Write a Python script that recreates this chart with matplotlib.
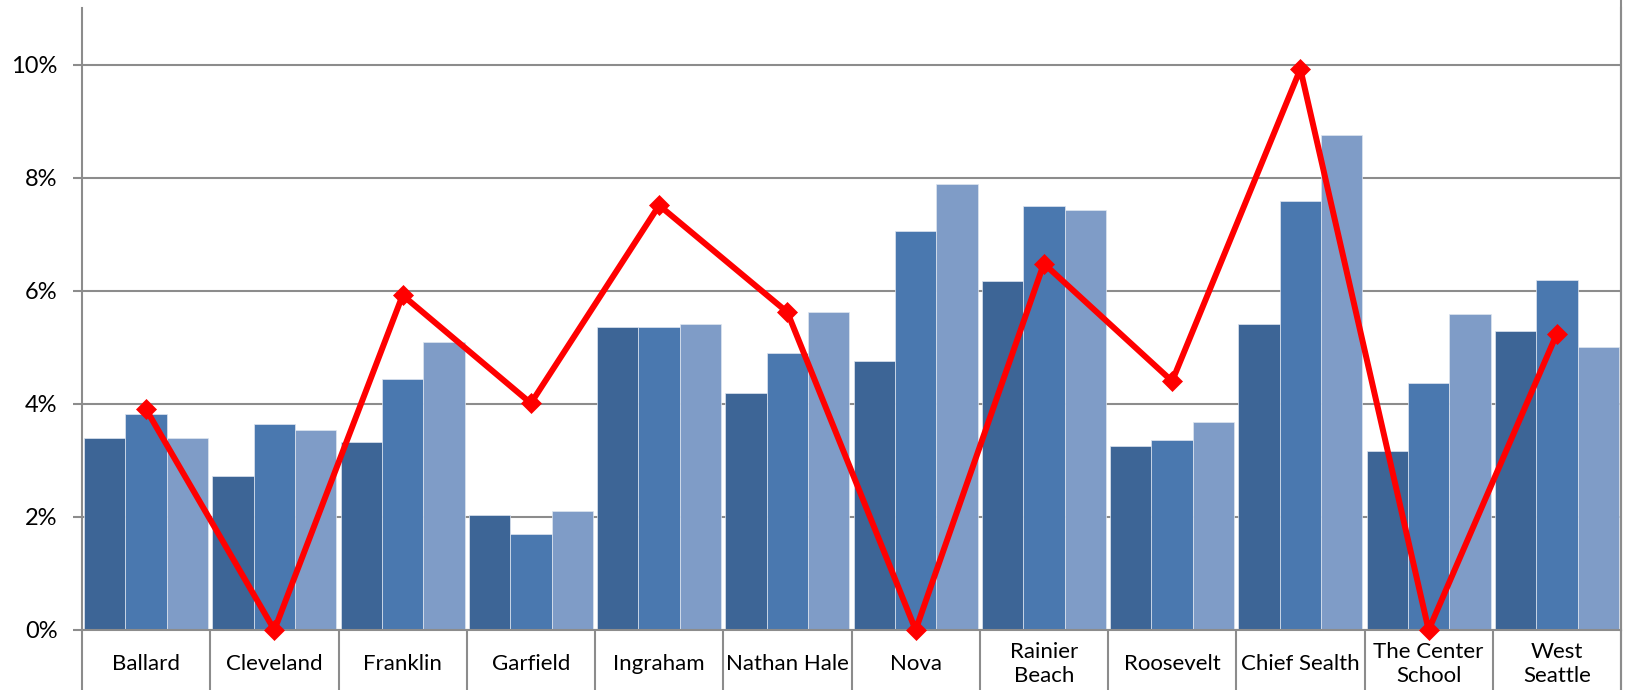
import matplotlib
matplotlib.use("Agg")
import matplotlib.pyplot as plt
import numpy as np
from matplotlib.ticker import FuncFormatter, FixedLocator
from matplotlib.lines import Line2D

plt.rcParams['font.family'] = ['Lato', 'DejaVu Sans']

categories = ["Ballard", "Cleveland", "Franklin", "Garfield", "Ingraham", "Nathan Hale",
              "Nova", "Rainier\nBeach", "Roosevelt", "Chief Sealth", "The Center\nSchool",
              "West\nSeattle"]
series_a = [3.40, 2.72, 3.32, 2.04, 5.36, 4.19, 4.76, 6.18, 3.26, 5.42, 3.17, 5.28]
series_b = [3.82, 3.65, 4.44, 1.69, 5.36, 4.89, 7.05, 7.49, 3.36, 7.59, 4.37, 6.19]
series_c = [3.40, 3.54, 5.10, 2.11, 5.42, 5.63, 7.89, 7.43, 3.68, 8.76, 5.58, 5.00]
line_vals = [3.90, 0.00, 5.92, 4.01, 7.51, 5.62, 0.00, 6.48, 4.40, 9.92, 0.00, 5.24]
yticks = [0, 2, 4, 6, 8, 10]

colors = ["#3D6596", "#4A78AF", "#7F9CC7"]

W, H = 1627, 690
fig = plt.figure(figsize=(W / 100, H / 100), dpi=100)
left, right, top, bottom = 82, 1621, 8, 630
ax = fig.add_axes([left / W, (H - bottom) / H, (right - left) / W, (bottom - top) / H])

x = np.arange(len(categories))
bw = 0.322
for i, (vals, c) in enumerate(zip([series_a, series_b, series_c], colors)):
    ax.bar(x + (i - 1) * bw, vals, width=bw, color=c, edgecolor="#dfe6f0",
           linewidth=0.5, zorder=2)

ax.plot(x, line_vals, color="#FF0000", linewidth=4.3, marker="D", markersize=10.5,
        markeredgewidth=0.5, markeredgecolor="#FF0000", zorder=3, clip_on=False)

ax.set_xlim(-0.5, len(categories) - 0.5)
ax.set_ylim(0, 11)

grid_c = "#8C8C8C"
ax.set_yticks(yticks)
ax.yaxis.set_major_formatter(FuncFormatter(lambda v, p: f"{v:.0f}%"))
ax.grid(axis="y", color=grid_c, linewidth=1.5, zorder=0)
ax.set_axisbelow(True)
ax.tick_params(axis="y", length=6.5, width=1.5, color=grid_c, pad=11, labelsize=17,
               labelcolor="black")

# category separators as major ticks, labels as minor ticks
ax.xaxis.set_major_locator(FixedLocator(np.arange(len(categories) + 1) - 0.5))
ax.xaxis.set_major_formatter(FuncFormatter(lambda v, p: ""))
ax.xaxis.set_minor_locator(FixedLocator(x))
ax.set_xticklabels(categories, minor=True)
ax.tick_params(axis="x", which="major", length=43.5, width=1.5, color=grid_c)
ax.tick_params(axis="x", which="minor", length=0, pad=24.5, labelsize=16,
               labelcolor="black")
for lab in ax.get_xticklabels(minor=True):
    lab.set_va("center")
    lab.set_linespacing(1.25)

ax.spines["top"].set_visible(False)
for s in ["left", "bottom", "right"]:
    ax.spines[s].set_color(grid_c)
    ax.spines[s].set_linewidth(1.5)

# right border extends over the full figure height
fig.add_artist(Line2D([right / W, right / W], [0, 1], color=grid_c, linewidth=1.5,
                      transform=fig.transFigure))

fig.savefig("out.png", dpi=100)
